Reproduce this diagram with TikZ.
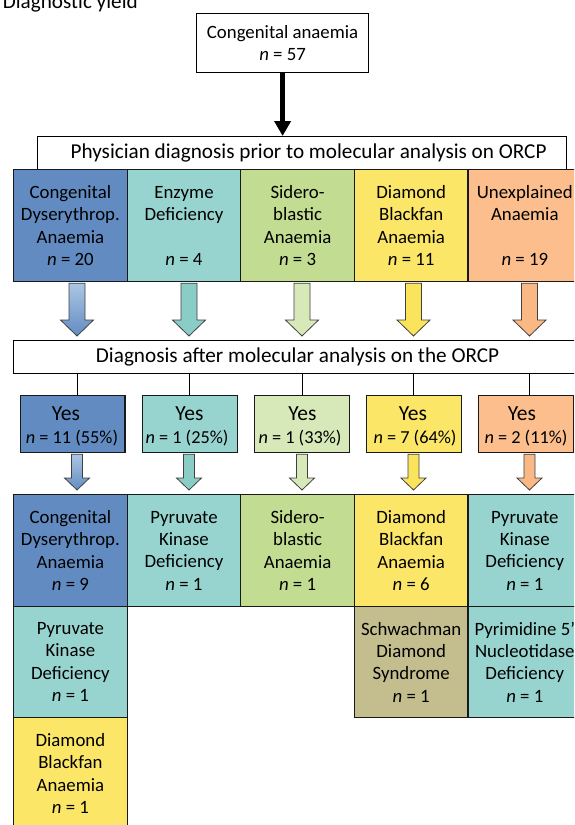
\documentclass[tikz,border=0pt]{standalone}
\usepackage{fontspec}
\setmainfont{Carlito}
\usetikzlibrary{arrows.meta,calc}
\definecolor{cdab}{RGB}{98,140,193}
\definecolor{cdal}{RGB}{172,198,228}
\definecolor{tealc}{RGB}{152,212,207}
\definecolor{teala}{RGB}{138,205,199}
\definecolor{grn}{RGB}{194,221,146}
\definecolor{grnl}{RGB}{215,233,184}
\definecolor{yel}{RGB}{251,230,104}
\definecolor{yela}{RGB}{250,228,92}
\definecolor{org}{RGB}{251,190,140}
\definecolor{orga}{RGB}{250,184,132}
\definecolor{kha}{RGB}{196,189,141}
\newcommand\cf{\fontsize{18.8}{22.3}\selectfont}
\newcommand\hf{\fontsize{21.2}{23}\selectfont}
\newcommand\yf{\fontsize{21.5}{24}\selectfont}
\newcommand\nf{\fontsize{18.3}{20}\selectfont}
\newcommand\blkarrow[6]{%
  \draw[#6] let \p1=(#1), \p2=(#2) in
    (\x1-#3pt,\y1) -- (\x1-#3pt,\y2+#5pt) -- (\x1-#4pt,\y2+#5pt) -- (\x1,\y2)
    -- (\x1+#4pt,\y2+#5pt) -- (\x1+#3pt,\y2+#5pt) -- (\x1+#3pt,\y1) -- cycle;}
\begin{document}
\begin{tikzpicture}[x=1pt,y=-1pt,every node/.style={inner sep=0pt}]
\tikzset{
  cell/.style={draw=black!90, line width=1.2pt, minimum width=113.6pt, minimum height=112pt, anchor=north west, align=center, font=\cf},
  wbox/.style={draw=black, line width=1.2pt, fill=white, anchor=north west, align=center, font=\hf},
  yesbox/.style={draw=black!90, line width=1.2pt, minimum height=57pt, anchor=north west},
  yestext/.style={anchor=base, font=\yf},
  ntext/.style={anchor=base, font=\nf},
  arr/.style={draw=black!75, line width=0.8pt},
  vline/.style={draw=black, line width=1pt}
}
\useasboundingbox (0,0) rectangle (574,825);
\clip (0,0) rectangle (574,825);
\fill[white] (0,0) rectangle (574,825);
% column axes
\coordinate (c1) at (77,0);
\coordinate (c2) at (189,0);
\coordinate (c3) at (302,0);
\coordinate (c4) at (413.5,0);
\coordinate (c5) at (529.5,0);

\node[anchor=base east, font=\hf] (title) at (138,8.5) {Diagnostic yield};

\node[wbox, font=\cf, minimum width=172pt, minimum height=59pt] (top) at (196,13) {Congenital anaemia\\\textit{n} = 57};
\node[wbox, minimum width=529pt, minimum height=33pt] (phys) at (37,136) {\hspace*{13pt}Physician diagnosis prior to molecular analysis on ORCP};
\draw[line width=4.5pt, -{Triangle[width=16pt,length=15pt]}] (top.south) -- (top.south |- phys.north);

% row 1
\node[cell, fill=cdab] (r1a) at (13,169) {Congenital\\Dyserythrop.\\Anaemia\\\textit{n} = 20};
\node[cell, fill=tealc] (r1b) at (126.6,169) {Enzyme\\Deficiency\\~\\\textit{n} = 4};
\node[cell, fill=grn] (r1c) at (240.2,169) {Sidero-\\blastic\\Anaemia\\\textit{n} = 3};
\node[cell, fill=yel] (r1d) at (353.8,169) {Diamond\\Blackfan\\Anaemia\\\textit{n} = 11};
\node[cell, fill=org] (r1e) at (467.4,169) {Unexplained\\Anaemia\\~\\\textit{n} = 19};

% diagnosis box
\node[wbox, minimum width=568pt, minimum height=33pt] (diag) at (13,340) {Diagnosis after molecular analysis on the ORCP};

% big block arrows
\blkarrow{$(r1a.south -| c1)+(0,1)$}{$(diag.north -| c1)+(0,-4)$}{8}{16.5}{16}{arr, top color=cdal, bottom color=cdab}
\blkarrow{$(r1b.south -| c2)+(0,1)$}{$(diag.north -| c2)+(0,-4)$}{8}{16.5}{16}{arr, fill=teala}
\blkarrow{$(r1c.south -| c3)+(0,1)$}{$(diag.north -| c3)+(0,-4)$}{8}{16.5}{16}{arr, fill=grnl}
\blkarrow{$(r1d.south -| c4)+(0,1)$}{$(diag.north -| c4)+(0,-4)$}{8}{16.5}{16}{arr, fill=yela}
\blkarrow{$(r1e.south -| c5)+(0,1)$}{$(diag.north -| c5)+(0,-4)$}{8}{16.5}{16}{arr, fill=orga}

% yes boxes
\node[yesbox, fill=cdab, minimum width=104.3pt] (y1) at (20,395) {};
\node[yesbox, fill=tealc, minimum width=95pt] (y2) at (141.5,395) {};
\node[yesbox, fill=grnl, minimum width=95pt] (y3) at (253.5,395) {};
\node[yesbox, fill=yel, minimum width=95pt] (y4) at (366,395) {};
\node[yesbox, fill=org, minimum width=95pt] (y5) at (478,395) {};
\node[yestext] (y1t) at (66,420) {Yes};
\node[yestext] (y2t) at (189.5,420) {Yes};
\node[yestext] (y3t) at (302.5,420) {Yes};
\node[yestext] (y4t) at (413,420) {Yes};
\node[yestext] (y5t) at (522,420) {Yes};
\node[ntext] (y1n) at (72,443.5) {\textit{n} = 11 (55\%)};
\node[ntext] (y2n) at (187,443.5) {\textit{n} = 1 (25\%)};
\node[ntext] (y3n) at (300,443.5) {\textit{n} = 1 (33\%)};
\node[ntext] (y4n) at (415,443.5) {\textit{n} = 7 (64\%)};
\node[ntext] (y5n) at (526,443.5) {\textit{n} = 2 (11\%)};

\draw[vline] (diag.south -| c1) -- (y1.north -| c1);
\draw[vline] (diag.south -| c2) -- (y2.north -| c2);
\draw[vline] (diag.south -| c3) -- (y3.north -| c3);
\draw[vline] (diag.south -| c4) -- (y4.north -| c4);
\draw[vline] (diag.south -| c5) -- (y5.north -| c5);

% row 3
\node[cell, fill=cdab] (r3a) at (13,494) {Congenital\\Dyserythrop.\\Anaemia\\\textit{n} = 9};
\node[cell, fill=tealc] (r3b) at (126.6,494) {Pyruvate\\Kinase\\Deficiency\\\textit{n} = 1};
\node[cell, fill=grn] (r3c) at (240.2,494) {Sidero-\\blastic\\Anaemia\\\textit{n} = 1};
\node[cell, fill=yel] (r3d) at (353.8,494) {Diamond\\Blackfan\\Anaemia\\\textit{n} = 6};
\node[cell, fill=tealc] (r3e) at (467.4,494) {Pyruvate\\Kinase\\Deficiency\\\textit{n} = 1};

% small block arrows
\blkarrow{$(y1.south -| c1)+(0,1)$}{$(r3a.north -| c1)+(0,-4)$}{5.5}{12.5}{12}{arr, top color=cdal, bottom color=cdab}
\blkarrow{$(y2.south -| c2)+(0,1)$}{$(r3b.north -| c2)+(0,-4)$}{5.5}{12.5}{12}{arr, fill=teala}
\blkarrow{$(y3.south -| c3)+(0,1)$}{$(r3c.north -| c3)+(0,-4)$}{5.5}{12.5}{12}{arr, fill=grnl}
\blkarrow{$(y4.south -| c4)+(0,1)$}{$(r3d.north -| c4)+(0,-4)$}{5.5}{12.5}{12}{arr, fill=yela}
\blkarrow{$(y5.south -| c5)+(0,1)$}{$(r3e.north -| c5)+(0,-4)$}{5.5}{12.5}{12}{arr, fill=orga}

% row 4
\node[cell, fill=tealc, minimum height=111pt] (r4a) at (13,606) {Pyruvate\\Kinase\\Deficiency\\\textit{n} = 1};
\node[cell, fill=kha, minimum height=111pt] (r4d) at (353.8,606) {Schwachman\\Diamond\\Syndrome\\\textit{n} = 1};
\node[cell, fill=tealc, minimum height=111pt] (r4e) at (467.4,606) {Pyrimidine 5'\\Nucleotidase\\Deficiency\\\textit{n} = 1};

% row 5
\node[cell, fill=yel] (r5a) at (13,717) {Diamond\\Blackfan\\Anaemia\\\textit{n} = 1};
\end{tikzpicture}
\end{document}
